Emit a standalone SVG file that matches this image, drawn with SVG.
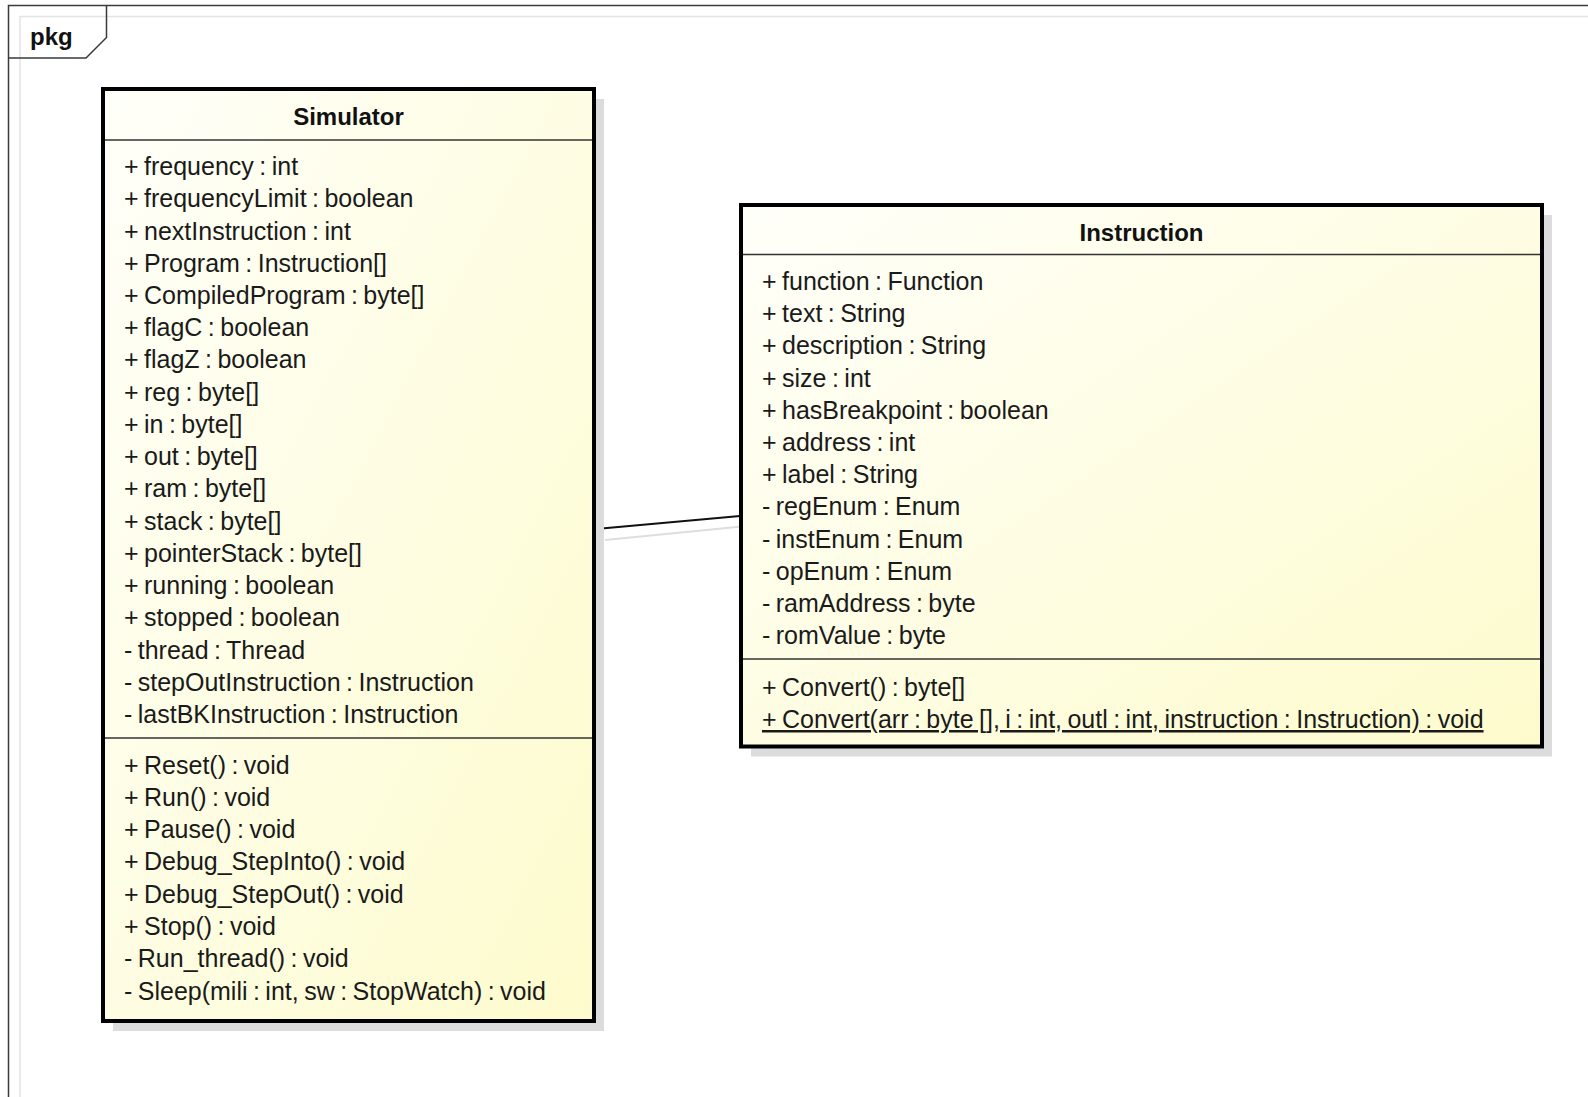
<svg xmlns="http://www.w3.org/2000/svg" width="1588" height="1097" viewBox="0 0 1588 1097">
  <defs>
    <linearGradient id="classFill" x1="0" y1="0" x2="1" y2="1">
      <stop offset="0" stop-color="#fffffa"/>
      <stop offset="1" stop-color="#fdfbcc"/>
    </linearGradient>
    <style>
      .frame { fill: none; stroke: #3a3a3a; stroke-width: 1.5; }
      .frame-shadow { fill: none; stroke: #e4e4e4; stroke-width: 1.5; }
      .shadow { fill: #dcdcdc; stroke: none; }
      .box { fill: url(#classFill); stroke: #000; stroke-width: 4; }
      .sep { stroke: #333; stroke-width: 1.6; }
      .title { font-family: "Liberation Sans", Arial, sans-serif; font-weight: bold; font-size: 24px; fill: #111; text-anchor: middle; }
      .member { font-family: "Liberation Sans", Arial, sans-serif; font-size: 25px; word-spacing: -1.5px; fill: #1a1a1a; }
      .static { text-decoration: underline; }
      .assoc { stroke: #111; stroke-width: 2; fill: none; }
      .assoc-shadow { stroke: #dedede; stroke-width: 2; fill: none; }
    </style>
  </defs>

  <rect width="1588" height="1097" fill="#fff"/>

  <!-- package frame -->
  <g id="pkg-frame">
    <path class="frame-shadow" d="M20,1097 V16.5 H1588"/>
    <path class="frame" d="M8.5,1097 V5.5 H1588"/>
    <path class="frame" d="M8.5,58 H86 L106.5,37.5 V5.5"/>
    <text x="30" y="45" class="title" style="text-anchor:start">pkg</text>
  </g>

  <!-- association -->
  <g id="connectors">
    <path class="assoc-shadow" d="M605,540 L752,525.5"/>
    <path class="assoc" d="M596,529 L740,516"/>
  </g>

  <!-- Simulator class -->
  <g id="Simulator">
    <rect class="shadow" x="113" y="99" width="491" height="932"/>
    <rect class="box" x="103" y="89" width="491" height="932"/>
    <line class="sep" x1="105" y1="140" x2="592" y2="140"/>
    <line class="sep" x1="105" y1="738" x2="592" y2="738"/>
    <text class="title" x="348.5" y="125">Simulator</text>
    <text class="member">
      <tspan x="124" y="175">+ frequency : int</tspan>
      <tspan x="124" y="207.2">+ frequencyLimit : boolean</tspan>
      <tspan x="124" y="239.5">+ nextInstruction : int</tspan>
      <tspan x="124" y="271.7">+ Program : Instruction[]</tspan>
      <tspan x="124" y="304">+ CompiledProgram : byte[]</tspan>
      <tspan x="124" y="336.2">+ flagC : boolean</tspan>
      <tspan x="124" y="368.4">+ flagZ : boolean</tspan>
      <tspan x="124" y="400.7">+ reg : byte[]</tspan>
      <tspan x="124" y="432.9">+ in : byte[]</tspan>
      <tspan x="124" y="465.2">+ out : byte[]</tspan>
      <tspan x="124" y="497.4">+ ram : byte[]</tspan>
      <tspan x="124" y="529.6">+ stack : byte[]</tspan>
      <tspan x="124" y="561.9">+ pointerStack : byte[]</tspan>
      <tspan x="124" y="594.1">+ running : boolean</tspan>
      <tspan x="124" y="626.4">+ stopped : boolean</tspan>
      <tspan x="124" y="658.6">- thread : Thread</tspan>
      <tspan x="124" y="690.8">- stepOutInstruction : Instruction</tspan>
      <tspan x="124" y="723.1">- lastBKInstruction : Instruction</tspan>
    </text>
    <text class="member">
      <tspan x="124" y="773.5">+ Reset() : void</tspan>
      <tspan x="124" y="805.8">+ Run() : void</tspan>
      <tspan x="124" y="838.1">+ Pause() : void</tspan>
      <tspan x="124" y="870.4">+ Debug_StepInto() : void</tspan>
      <tspan x="124" y="902.7">+ Debug_StepOut() : void</tspan>
      <tspan x="124" y="935">+ Stop() : void</tspan>
      <tspan x="124" y="967.3">- Run_thread() : void</tspan>
      <tspan x="124" y="999.6">- Sleep(mili : int, sw : StopWatch) : void</tspan>
    </text>
  </g>

  <!-- Instruction class -->
  <g id="Instruction">
    <rect class="shadow" x="751" y="215" width="801" height="541.5"/>
    <rect class="box" x="741" y="205" width="801" height="541.5"/>
    <line class="sep" x1="743" y1="254.5" x2="1540" y2="254.5"/>
    <line class="sep" x1="743" y1="659" x2="1540" y2="659"/>
    <text class="title" x="1141.5" y="240.5">Instruction</text>
    <text class="member">
      <tspan x="762" y="290">+ function : Function</tspan>
      <tspan x="762" y="322.2">+ text : String</tspan>
      <tspan x="762" y="354.4">+ description : String</tspan>
      <tspan x="762" y="386.6">+ size : int</tspan>
      <tspan x="762" y="418.8">+ hasBreakpoint : boolean</tspan>
      <tspan x="762" y="451">+ address : int</tspan>
      <tspan x="762" y="483.2">+ label : String</tspan>
      <tspan x="762" y="515.4">- regEnum : Enum</tspan>
      <tspan x="762" y="547.6">- instEnum : Enum</tspan>
      <tspan x="762" y="579.8">- opEnum : Enum</tspan>
      <tspan x="762" y="612">- ramAddress : byte</tspan>
      <tspan x="762" y="644.2">- romValue : byte</tspan>
    </text>
    <text class="member" x="762" y="695.5">+ Convert() : byte[]</text>
    <text class="member static" x="762" y="728">+ Convert(arr : byte [], i : int, outl : int, instruction : Instruction) : void</text>
  </g>
</svg>
